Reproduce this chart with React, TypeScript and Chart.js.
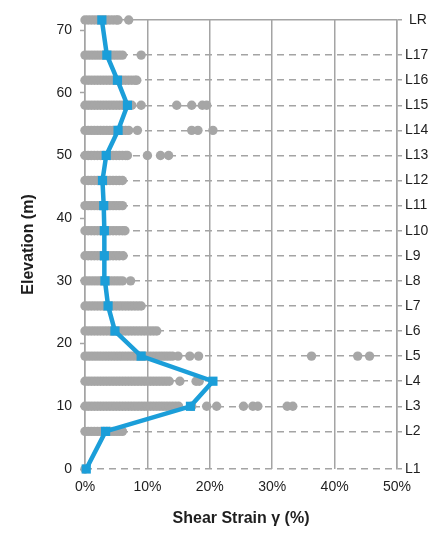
import { useEffect, useRef } from "react";
import { Chart, registerables } from "chart.js";

Chart.register(...registerables);

// Storey names (bottom to top) and their elevations in metres
const floorLabels = ["L1", "L2", "L3", "L4", "L5", "L6", "L7", "L8", "L9", "L10", "L11", "L12", "L13", "L14", "L15", "L16", "L17", " LR"];
const floorElevations = [0, 6, 10, 14, 18, 22, 26, 30, 34, 38, 42, 46, 50, 54, 58, 62, 66, 71.6];

// Mean shear strain per storey (%)
const meanStrain = [0.2, 3.3, 16.9, 20.5, 9.0, 4.8, 3.7, 3.2, 3.1, 3.1, 3.0, 2.8, 3.4, 5.3, 6.8, 5.2, 3.5, 2.7];

// Individual shear strain records per storey (%)
const strainL1 = [0];
const strainL2 = [0, 0.5, 1, 1.5, 2, 2.5, 3, 3.5, 4, 4.5, 5, 5.5, 6];
const strainL3 = [0, 0.5, 1, 1.5, 2, 2.5, 3, 3.5, 4, 4.5, 5, 5.5, 6, 6.5, 7, 7.5, 8, 8.5, 9, 9.5, 10, 10.5, 11, 11.5, 12, 12.5, 13, 13.5, 14, 14.5, 15, 17.1, 19.5, 21.1, 25.4, 26.9, 27.7, 32.4, 33.3];
const strainL4 = [0, 0.5, 1, 1.5, 2, 2.5, 3, 3.5, 4, 4.5, 5, 5.5, 6, 6.5, 7, 7.5, 8, 8.5, 9, 9.5, 10, 10.5, 11, 11.5, 12, 12.5, 13, 13.5, 15.2, 17.8, 18.3];
const strainL5 = [0, 0.5, 1, 1.5, 2, 2.5, 3, 3.5, 4, 4.5, 5, 5.5, 6, 6.5, 7, 7.5, 8, 8.5, 9, 9.5, 10, 10.5, 11, 11.5, 12, 12.5, 13, 13.5, 14, 14.9, 16.8, 18.2, 36.3, 43.7, 45.6];
const strainL6 = [0, 0.5, 1, 1.5, 2, 2.5, 3, 3.5, 4, 4.5, 5, 5.5, 6, 6.5, 7, 7.5, 8, 8.5, 9, 9.5, 10, 10.5, 11, 11.5];
const strainL7 = [0, 0.5, 1, 1.5, 2, 2.5, 3, 3.5, 4, 4.5, 5, 5.5, 6, 6.5, 7, 7.5, 8, 8.5, 9];
const strainL8 = [0, 0.5, 1, 1.5, 2, 2.5, 3, 3.5, 4, 4.5, 5, 5.5, 6, 7.3];
const strainL9 = [0, 0.5, 1, 1.5, 2, 2.5, 3, 3.5, 4, 4.5, 5, 5.5, 6.1];
const strainL10 = [0, 0.5, 1, 1.5, 2, 2.5, 3, 3.5, 4, 4.5, 5, 5.5, 6, 6.4];
const strainL11 = [0, 0.5, 1, 1.5, 2, 2.5, 3, 3.5, 4, 4.5, 5, 5.5, 6];
const strainL12 = [0, 0.5, 1, 1.5, 2, 2.5, 3, 3.5, 4, 4.5, 5, 5.5, 6];
const strainL13 = [0, 0.5, 1, 1.5, 2, 2.5, 3, 3.5, 4, 4.5, 5, 5.5, 6, 6.5, 6.8, 10.0, 12.1, 13.4];
const strainL14 = [0, 0.5, 1, 1.5, 2, 2.5, 3, 3.5, 4, 4.5, 5, 5.5, 6, 6.5, 7, 8.4, 17.1, 18.1, 20.5];
const strainL15 = [0, 0.5, 1, 1.5, 2, 2.5, 3, 3.5, 4, 4.5, 5, 5.5, 6, 6.5, 7, 7.5, 9.0, 14.7, 17.1, 18.8, 19.5];
const strainL16 = [0, 0.5, 1, 1.5, 2, 2.5, 3, 3.5, 4, 4.5, 5, 5.5, 6, 6.5, 7, 7.5, 8, 8.3];
const strainL17 = [0, 0.5, 1, 1.5, 2, 2.5, 3, 3.5, 4, 4.5, 5, 5.5, 6, 9.0];
const strainLR = [0, 0.5, 1, 1.5, 2, 2.5, 3, 3.5, 4, 4.5, 5, 5.3, 7.0];

// Axis ticks
const elevationTicks = [0, 10, 20, 30, 40, 50, 60, 70];
const strainTicks = [0, 10, 20, 30, 40, 50];

const strainRecords = [strainL1, strainL2, strainL3, strainL4, strainL5, strainL6, strainL7, strainL8, strainL9, strainL10, strainL11, strainL12, strainL13, strainL14, strainL15, strainL16, strainL17, strainLR];

const FONT = "'Liberation Sans', Arial, Helvetica, sans-serif";
const GREY_DOT = "#a6a6a6";
const GRID = "#a4a4a4";
const BLUE = "#1b9ed9";
const TEXT = "#1e1e1e";
const TOP = floorElevations[floorElevations.length - 1];

export default function App() {
  const canvasRef = useRef<HTMLCanvasElement | null>(null);

  useEffect(() => {
    if (!canvasRef.current) return;

    const recordPoints = strainRecords.flatMap((list, i) =>
      list.map((x) => ({ x, y: floorElevations[i] }))
    );
    const meanPoints = meanStrain.map((x, i) => ({ x, y: floorElevations[i] }));

    const chart = new Chart(canvasRef.current, {
      type: "scatter",
      data: {
        datasets: [
          {
            label: "Mean",
            data: meanPoints,
            showLine: true,
            borderColor: BLUE,
            backgroundColor: BLUE,
            borderWidth: 4.5,
            pointStyle: "rect",
            pointRadius: 6.5,
            pointBackgroundColor: BLUE,
            pointBorderWidth: 0,
            tension: 0,
            clip: false,
            order: 0,
          },
          {
            label: "Records",
            data: recordPoints,
            pointRadius: 4.7,
            pointBackgroundColor: GREY_DOT,
            backgroundColor: GREY_DOT,
            pointBorderWidth: 0,
            borderWidth: 0,
            clip: false,
            order: 1,
          },
        ],
      },
      options: {
        responsive: false,
        animation: false,
        events: [],
        layout: { padding: { top: 20, left: 0, right: 0, bottom: 0 } },
        plugins: {
          legend: { display: false },
          tooltip: { enabled: false },
        },
        scales: {
          x: {
            type: "linear",
            position: "bottom",
            min: 0,
            max: 50,
            afterBuildTicks: (s: any) => {
              s.ticks = strainTicks.map((v) => ({ value: v }));
            },
            afterFit: (s: any) => {
              s.height = 64;
            },
            ticks: {
              callback: (v: any) => `${v}%`,
              font: { size: 14, family: FONT },
              color: TEXT,
              padding: 10,
              maxRotation: 0,
            },
            grid: { color: GRID, lineWidth: 1.5, drawTicks: false },
            border: { display: false },
            title: {
              display: true,
              text: "Shear Strain γ (%)",
              font: { size: 16, weight: "bold", family: FONT },
              color: TEXT,
              padding: { top: 0, bottom: 5 },
            },
          },
          y: {
            type: "linear",
            position: "left",
            min: 0,
            max: TOP,
            afterBuildTicks: (s: any) => {
              s.ticks = elevationTicks.map((v) => ({ value: v }));
            },
            afterFit: (s: any) => {
              s.width = 85;
            },
            ticks: {
              font: { size: 14, family: FONT },
              color: TEXT,
              padding: 8,
            },
            grid: {
              drawOnChartArea: false,
              drawTicks: true,
              tickLength: 5,
              tickColor: GRID,
              tickWidth: 1.5,
            },
            border: { display: true, color: GRID, width: 1.5 },
            title: {
              display: true,
              text: "Elevation (m)",
              font: { size: 16, weight: "bold", family: FONT },
              color: TEXT,
              padding: { top: 19, bottom: 0 },
            },
          },
          y2: {
            type: "linear",
            position: "right",
            min: 0,
            max: TOP,
            afterBuildTicks: (s: any) => {
              s.ticks = floorElevations.map((v) => ({ value: v }));
            },
            afterFit: (s: any) => {
              s.width = 44;
            },
            ticks: {
              autoSkip: false,
              callback: (_v: any, i: number) => floorLabels[i],
              font: { size: 14, family: FONT },
              color: TEXT,
              padding: 3,
            },
            grid: {
              color: GRID,
              lineWidth: 1.5,
              drawTicks: true,
              tickLength: 5,
              tickColor: GRID,
              tickWidth: 1.5,
              tickBorderDash: [],
            },
            border: {
              display: true,
              color: GRID,
              width: 1.5,
              dash: (ctx: any) => (ctx.tick && ctx.tick.value >= TOP ? [] : [7, 5]),
            },
          },
        },
      } as any,
    });

    return () => chart.destroy();
  }, []);

  return (
    <div style={{ position: "absolute", left: 0, top: 0, width: 441, height: 533, background: "#fff" }}>
      <canvas ref={canvasRef} width={441} height={533} style={{ display: "block" }} />
    </div>
  );
}
